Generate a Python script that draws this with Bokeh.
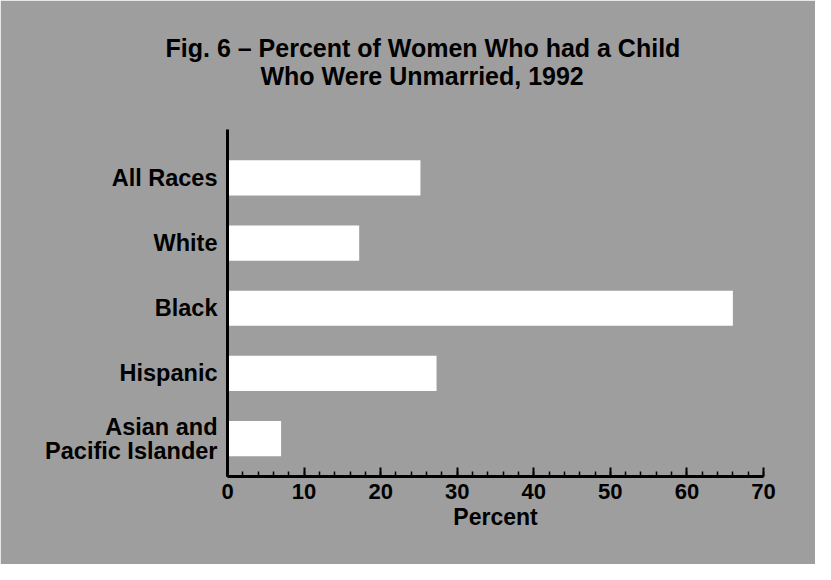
from bokeh.plotting import figure
from bokeh.models import Range1d, SingleIntervalTicker, FixedTicker, Title
from bokeh.embed import file_html
from bokeh.resources import INLINE

# ---- data ----
categories = ["All Races", "White", "Black", "Hispanic", "Asian and\nPacific Islander"]
percent = [25.2, 17.2, 66.0, 27.3, 7.0]
title_line1 = "Fig. 6 \u2013 Percent of Women Who had a Child"
title_line2 = "Who Were Unmarried, 1992"
x_label = "Percent"

FONT = "Liberation Sans"
BG = "#9e9e9e"

positions = list(range(len(categories) - 1, -1, -1))

p = figure(
    width=815, height=564,
    output_backend="svg", toolbar_location=None,
    x_range=Range1d(0, 70), y_range=Range1d(-0.582, 4.743),
    min_border_left=227, min_border_right=52,
    min_border_top=129, min_border_bottom=88,
)
p.background_fill_color = BG
p.border_fill_color = BG
p.outline_line_color = BG
p.outline_line_width = 2
p.grid.visible = False

p.hbar(y=positions, left=0, right=percent, height=0.54,
       fill_color="white", line_color=None)

# x axis
xa = p.xaxis[0]
xa.ticker = SingleIntervalTicker(interval=10, num_minor_ticks=5)
xa.axis_line_color = "black"
xa.axis_line_width = 3
xa.major_tick_in = 9
xa.major_tick_out = 0
xa.minor_tick_in = 5
xa.minor_tick_out = 0
xa.major_tick_line_width = 2
xa.minor_tick_line_width = 1.5
xa.major_label_text_font = FONT
xa.major_label_text_font_style = "bold"
xa.major_label_text_font_size = "22px"
xa.major_label_text_color = "black"
xa.major_label_standoff = 7
xa.axis_label = x_label
xa.axis_label_text_font = FONT
xa.axis_label_text_font_style = "bold"
xa.axis_label_text_font_size = "23px"
xa.axis_label_text_color = "black"
xa.axis_label_standoff = 2

# y axis (categories)
ya = p.yaxis[0]
ya.ticker = FixedTicker(ticks=positions)
ya.major_label_overrides = {pos: cat for pos, cat in zip(positions, categories)}
ya.axis_line_color = "black"
ya.axis_line_width = 3
ya.major_tick_line_color = None
ya.minor_tick_line_color = None
ya.major_label_text_font = FONT
ya.major_label_text_font_style = "bold"
ya.major_label_text_font_size = "23.5px"
ya.major_label_text_color = "black"
ya.major_label_text_line_height = 0.92
ya.major_label_standoff = 4

# titles: spacer nearest the plot, then line 2, then line 1 (outermost)
p.add_layout(Title(text=" ", text_font_size="2px", standoff=36), "above")
p.add_layout(Title(text=title_line2, align="left", offset=33,
                   text_font=FONT, text_font_style="bold",
                   text_font_size="25px", text_color="black", standoff=0),
             "above")
p.title.text = title_line1
p.title.align = "left"
p.title.offset = -62
p.title.text_font = FONT
p.title.text_font_style = "bold"
p.title.text_font_size = "25px"
p.title.text_color = "black"
p.title.standoff = -5

open("out.html", "w").write(file_html(p, INLINE))
